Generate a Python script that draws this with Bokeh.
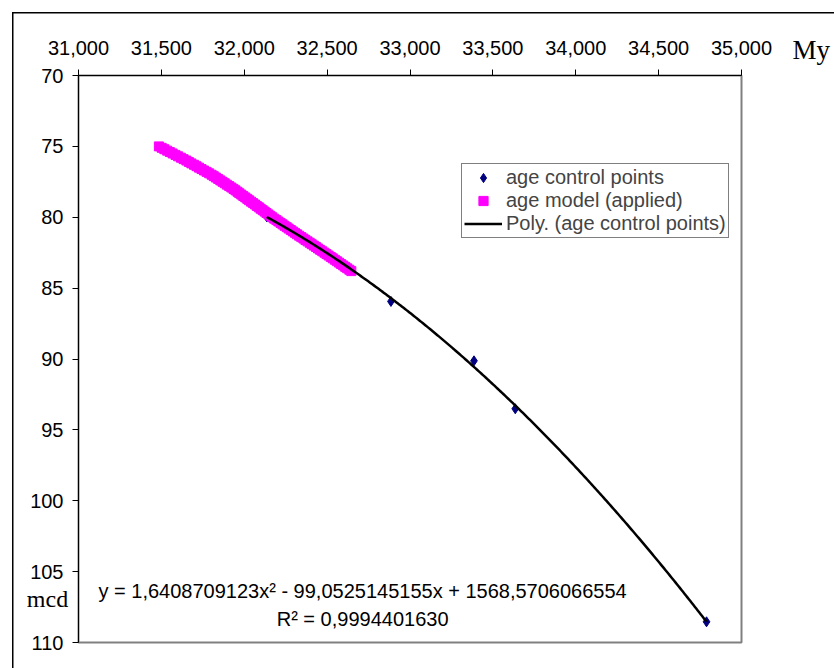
import numpy as np
from bokeh.plotting import figure
from bokeh.models import (Range1d, FixedTicker, NumeralTickFormatter, Legend,
                          LegendItem, Label)
from bokeh.embed import file_html
from bokeh.resources import INLINE

# --- data -------------------------------------------------------------
# age control points: age (years) vs depth (mcd)
control_age = [32136, 32885, 33386, 33635, 34789]
control_depth = [79.97, 85.94, 90.13, 93.51, 108.54]

# applied age model, depth (mcd) and age (years)
model_depth = [75.0, 75.1, 75.2, 75.3, 75.4, 75.5, 75.6, 75.7, 75.8, 75.9,
               76.0, 76.1, 76.2, 76.3, 76.4, 76.5, 76.6, 76.7, 76.8, 76.9,
               77.0, 77.1, 77.2, 77.3, 77.4, 77.5, 77.6, 77.7, 77.8, 77.9,
               78.0, 78.1, 78.2, 78.3, 78.4, 78.5, 78.6, 78.7, 78.8, 78.9,
               79.0, 79.1, 79.2, 79.3, 79.4, 79.5, 79.6, 79.7, 79.8, 79.9,
               80.0, 80.1, 80.2, 80.3, 80.4, 80.5, 80.6, 80.7, 80.8, 80.9,
               81.0, 81.1, 81.2, 81.3, 81.4, 81.5, 81.6, 81.7, 81.8, 81.9,
               82.0, 82.1, 82.2, 82.3, 82.4, 82.5, 82.6, 82.7, 82.8, 82.9,
               83.0, 83.1, 83.2, 83.3, 83.4, 83.5, 83.6, 83.7, 83.8]
model_age = [31485, 31502, 31518, 31535, 31551, 31568, 31585, 31601, 31618, 31634,
             31651, 31666, 31681, 31697, 31712, 31727, 31742, 31757, 31773, 31788,
             31803, 31816, 31829, 31843, 31856, 31869, 31882, 31895, 31909, 31922,
             31935, 31947, 31959, 31970, 31982, 31994, 32006, 32018, 32029, 32041,
             32053, 32065, 32076, 32088, 32099, 32111, 32123, 32134, 32146, 32157,
             32169, 32181, 32194, 32206, 32219, 32231, 32243, 32256, 32268, 32281,
             32293, 32306, 32318, 32331, 32344, 32357, 32369, 32382, 32395, 32407,
             32420, 32433, 32445, 32458, 32471, 32484, 32496, 32509, 32522, 32534,
             32547, 32559, 32572, 32584, 32597, 32609, 32621, 32634, 32646]

# second-order polynomial trend of the control points (x in thousands of years)
fit_coef = [1.6408709123, -99.0525145155, 1568.5706066554]
fit_r2 = 0.9994401630

x_ticks = [31000, 31500, 32000, 32500, 33000, 33500, 34000, 34500, 35000]
y_ticks = [70, 75, 80, 85, 90, 95, 100, 105, 110]

FONT = "Liberation Sans"
SERIF = "Liberation Serif"

# --- figure -----------------------------------------------------------
p = figure(width=834, height=668, output_backend="svg", toolbar_location=None,
           x_axis_location="above",
           x_range=Range1d(x_ticks[0], x_ticks[-1]),
           y_range=Range1d(y_ticks[-1], y_ticks[0]),
           min_border_left=78, min_border_right=93,
           min_border_top=75, min_border_bottom=26)
p.background_fill_color = "white"
p.border_fill_color = None
p.outline_line_color = "#808080"
p.outline_line_width = 2
p.xgrid.visible = False
p.ygrid.visible = False

# chart-area frame: thin black rule along the left and top, behind the canvas
p.styles = {
    "background-color": "white",
    "background-image": "linear-gradient(#000, #000), linear-gradient(#000, #000)",
    "background-size": "100% 1.5px, 1.5px 100%",
    "background-position": "12px 12px, 12px 12px",
    "background-repeat": "no-repeat",
}

for ax, ticks, standoff in ((p.xaxis[0], x_ticks, 15), (p.yaxis[0], y_ticks, 9)):
    ax.ticker = FixedTicker(ticks=ticks)
    ax.axis_line_color = "black"
    ax.axis_line_width = 1
    ax.major_tick_line_color = "black"
    ax.major_tick_out = 6
    ax.major_tick_in = 0
    ax.minor_tick_line_color = None
    ax.major_label_text_font = FONT
    ax.major_label_text_font_size = "20px"
    ax.major_label_text_color = "black"
    ax.major_label_standoff = standoff
p.xaxis[0].formatter = NumeralTickFormatter(format="0,0")

# control points (drawn first so the model series sits on top)
r_ctrl = p.scatter(control_age, control_depth, marker="diamond",
                   size=10, fill_color="#000080", line_color="#000080")

# applied age model
r_model = p.scatter(model_age, model_depth, marker="square", size=9,
                    fill_color="#FF00FF", line_color="#FF00FF")

# polynomial trend over the span of the control points
fit_age = np.linspace(min(control_age), max(control_age), 300)
fit_depth = np.polyval(fit_coef, fit_age / 1000.0)
r_fit = p.line(fit_age, fit_depth, line_color="black", line_width=2.5)

legend = Legend(items=[
    LegendItem(label="age control points", renderers=[r_ctrl]),
    LegendItem(label="age model (applied)", renderers=[r_model]),
    LegendItem(label="Poly. (age control points)", renderers=[r_fit]),
], location=(383, 404), margin=0, padding=2, spacing=0,
    glyph_width=38, glyph_height=23, label_height=23, label_standoff=4,
    label_text_font=FONT, label_text_font_size="20px",
    border_line_color="black", border_line_width=1,
    background_fill_color="white", background_fill_alpha=1)
p.add_layout(legend)


def fmt(v):
    return f"{abs(v):.10f}".replace(".", ",")


eq1 = (f"y = {fmt(fit_coef[0])}x\u00b2 - {fmt(fit_coef[1])}x + {fmt(fit_coef[2])}")
eq2 = f"R\u00b2 = {fmt(fit_r2)}"
p.add_layout(Label(x=32714, y=106.35, text=eq1, text_align="center",
                   text_baseline="alphabetic", text_font=FONT,
                   text_font_size="20px", text_color="black"))
p.add_layout(Label(x=32714, y=108.33, text=eq2, text_align="center",
                   text_baseline="alphabetic", text_font=FONT,
                   text_font_size="20px", text_color="black"))

# axis titles, placed in canvas pixels inside the side panels
p.add_layout(Label(x=792, y=49, x_units="canvas", y_units="canvas", text="My",
                   text_align="left", text_baseline="alphabetic", text_font=SERIF,
                   text_font_size="27px", text_color="black"), "right")
p.add_layout(Label(x=47, y=598, x_units="canvas", y_units="canvas", text="mcd",
                   text_align="center", text_baseline="alphabetic", text_font=SERIF,
                   text_font_size="24px", text_color="black"), "below")

open("out.html", "w").write(file_html(p, INLINE))
